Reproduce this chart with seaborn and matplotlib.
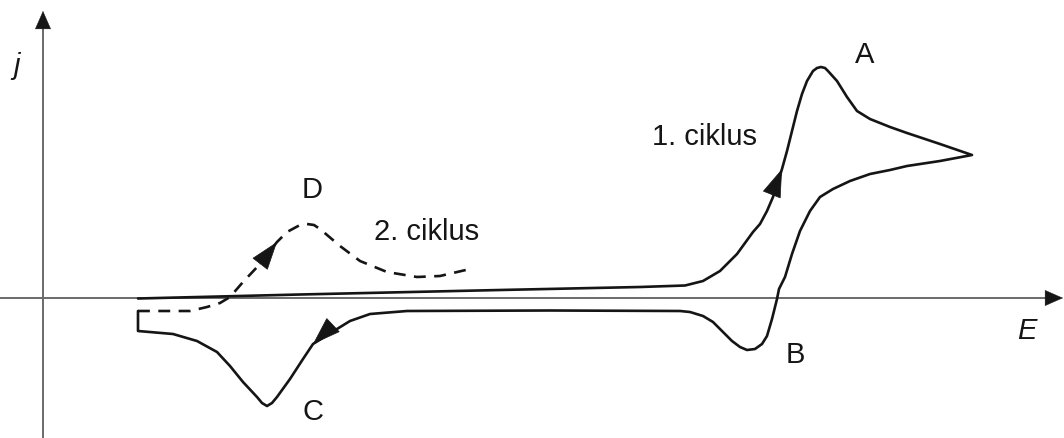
import matplotlib
matplotlib.use("Agg")
import matplotlib.pyplot as plt
import seaborn as sns
import pandas as pd

sns.set_theme(style="white")
plt.rcParams['font.family'] = ['Liberation Sans', 'DejaVu Sans']

# 1st cycle, forward (anodic) scan
fwd_E = [95, 257, 457, 597, 627, 642, 660, 677, 694, 710, 717, 724, 730, 735, 739, 744,
         749, 754, 759, 764, 770, 774, 778, 782, 785, 794, 804, 814, 827, 847, 864, 897, 929]
fwd_j = [-0.5, 3.5, 8, 11, 12, 12.5, 17, 27, 44, 66, 74, 87, 101, 116, 129, 147,
         167, 187, 204, 217, 227, 230, 231, 230, 227, 217, 201, 187, 179, 171, 165, 154, 143]

# 1st cycle, reverse (cathodic) scan
rev_E = [897, 864, 847, 827, 807, 790, 777, 767, 757, 749, 742, 736, 734, 729, 724, 719,
         712, 704, 697, 689, 680, 670, 660, 647, 637, 507, 364, 327, 307, 294, 270, 260,
         247, 234, 229, 224, 219, 214, 200, 187, 174, 154, 130, 95, 95]
rev_j = [137, 132, 128, 124, 117, 109, 101, 87, 67, 44, 21, 9, -1, -21, -38, -46,
         -51, -52, -49, -43, -34, -24, -18, -14, -13, -12.5, -13, -16, -23, -31, -46, -61,
         -81, -99, -105, -108, -105, -99, -84, -68, -54, -43, -36, -33, -13]

# 2nd cycle (dashed)
cyc2_E = [95, 115, 147, 164, 177, 187, 200, 217, 234, 244, 257, 264, 271, 277, 297, 317,
          344, 374, 397, 427]
cyc2_j = [-13, -13, -13, -9, -5, 1, 16, 34, 56, 66, 73, 74, 73, 69, 52, 37,
          26, 21, 22, 29]

labels = ["A", "B", "C", "D", "1. ciklus", "2. ciklus"]
label_E = [822, 752, 270, 269, 661, 384]
label_j = [244, -56, -113, 109, 162, 67]

cyc1 = pd.DataFrame({"E": fwd_E + rev_E, "j": fwd_j + rev_j})
cyc2 = pd.DataFrame({"E": cyc2_E, "j": cyc2_j})

fig = plt.figure(figsize=(10.64, 4.39), dpi=100)
ax = fig.add_axes([0, 0, 1, 1])
ax.set_xlim(-43, 1021)
ax.set_ylim(-140, 299)
ax.axis("off")

axis_col = "#6a6a6a"
ink = "#151515"
# axis lines
ax.plot([-43, 1008], [0, 0], color=axis_col, lw=1.4, zorder=1, solid_capstyle="butt")
ax.plot([0, 0], [-140, 275], color=axis_col, lw=1.4, zorder=1, solid_capstyle="butt")
# axis arrow heads
ahead = dict(arrowstyle="-|>,head_length=1.25,head_width=0.55", mutation_scale=10,
             color=ink, lw=0.3, shrinkA=0, shrinkB=0)
ax.annotate("", xy=(1020, 0), xytext=(1004, 0), arrowprops=ahead, zorder=2)
ax.annotate("", xy=(0, 287), xytext=(0, 271), arrowprops=ahead, zorder=2)

sns.lineplot(data=cyc1, x="E", y="j", sort=False, estimator=None, color=ink,
             lw=1.9, ax=ax, zorder=3, solid_joinstyle="round")
sns.lineplot(data=cyc2, x="E", y="j", sort=False, estimator=None, color=ink,
             lw=1.9, ax=ax, linestyle=(0, (4.5, 3.2)), zorder=3)

head = dict(arrowstyle="-|>,head_length=1.9,head_width=0.65", mutation_scale=10,
            color=ink, lw=0.5, shrinkA=0, shrinkB=0)
ax.annotate("", xy=(739, 129), xytext=(729, 104), arrowprops=head, zorder=4)
ax.annotate("", xy=(270, -46), xytext=(288, -29), arrowprops=head, zorder=4)
ax.annotate("", xy=(234, 56), xytext=(217, 34), arrowprops=head, zorder=4)

for t, e, jj in zip(labels, label_E, label_j):
    ax.text(e, jj, t, fontsize=21, ha="center", va="center", color=ink)

ax.text(-26, 233, "j", fontsize=21, style="italic", ha="center", va="center", color=ink)
ax.text(984, -32, "E", fontsize=21, style="italic", ha="center", va="center", color=ink)

ax.set_xlabel("")
ax.set_ylabel("")
fig.savefig("out.png", dpi=100)
